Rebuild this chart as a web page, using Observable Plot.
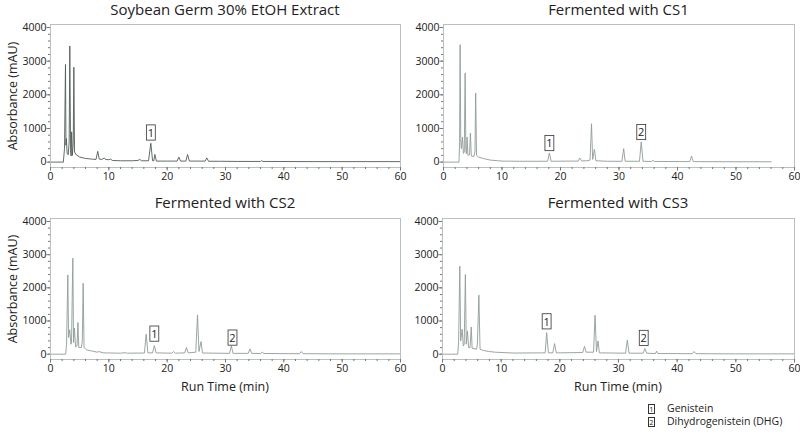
<!DOCTYPE html>
<html>
<head>
<meta charset="utf-8">
<script src="https://cdn.jsdelivr.net/npm/d3@7"></script>
<script src="https://cdn.jsdelivr.net/npm/@observablehq/plot@0.6"></script>
<style>
  html, body { margin: 0; padding: 0; background: #fff; }
  #chart { position: relative; width: 800px; height: 436px; font-family: "Open Sans", sans-serif; color: #222; overflow: hidden; }
  .title { position: absolute; text-align: center; font-size: 15px; line-height: 18px; white-space: nowrap; }
  .xlab { position: absolute; text-align: center; font-size: 12.5px; line-height: 18px; white-space: nowrap; }
  .panel { position: absolute; }
  .legend { position: absolute; left: 648px; top: 402px; font-size: 10.5px; line-height: 13px; }
  .legend div { display: flex; align-items: center; height: 13px; }
  .legend .bx { display: inline-block; width: 5px; height: 8px; border: 0.8px solid #333; font-size: 7.5px; line-height: 8px; text-align: center; margin-right: 12px; }
</style>
</head>
<body>
<div id="chart"></div>
<script>
// ---- data (run time in min, absorbance in mAU) ----
const xTicks = [0, 10, 20, 30, 40, 50, 60];
const yTicks = [0, 1000, 2000, 3000, 4000];
const panelTitles = ["Soybean Germ 30% EtOH Extract", "Fermented with CS1", "Fermented with CS2", "Fermented with CS3"];
const yTitle = "Absorbance (mAU)";
const xTitle = "Run Time (min)";
const legendItems = [["1", "Genistein"], ["2", "Dihydrogenistein (DHG)"]];

const soybean = [[0,0],[2.2,0],[2.4,400],[2.57,2900],[2.65,500],[2.72,700],[2.85,250],[3.05,220],[3.2,600],[3.31,3450],[3.45,300],[3.55,180],[3.62,900],[3.75,200],[3.9,600],[4.0,2820],[4.12,300],[4.4,220],[5.0,150],[6.0,110],[7.0,90],[7.8,80],[8.1,320],[8.35,90],[8.8,80],[9.2,120],[9.5,80],[10.0,70],[10.3,90],[10.6,50],[12,40],[14,40],[15.0,50],[15.3,80],[15.6,40],[16.8,40],[17.2,560],[17.5,40],[17.7,40],[17.9,230],[18.15,30],[21.7,30],[22.0,150],[22.3,30],[23.2,30],[23.5,225],[23.8,30],[26.5,30],[26.8,125],[27.1,25],[29,25],[32,20],[36.0,20],[36.2,45],[36.4,20],[45,15],[60,15]];

const cs1 = [[0,0],[2.65,0],[2.75,600],[2.84,3490],[2.95,700],[3.05,400],[3.24,745],[3.4,260],[3.55,300],[3.7,2650],[3.82,350],[3.92,250],[4.04,745],[4.18,200],[4.45,220],[4.6,865],[4.75,180],[5.2,170],[5.38,300],[5.5,2055],[5.65,200],[6,150],[7,100],[8,60],[10,30],[13,25],[17.8,25],[18.1,270],[18.4,25],[21.5,30],[23.0,30],[23.3,120],[23.6,35],[24.5,40],[25.05,60],[25.3,1140],[25.5,80],[25.8,380],[26.05,40],[28,25],[30.5,25],[30.8,400],[31.05,25],[33.5,25],[33.8,600],[34.1,25],[35.6,20],[35.8,60],[36.0,20],[42.1,15],[42.4,180],[42.7,15],[50,10],[56,10]];

const cs2 = [[0,0],[2.6,0],[2.75,300],[2.97,2390],[3.1,500],[3.3,735],[3.5,300],[3.6,350],[3.83,2895],[3.95,350],[4.1,785],[4.3,220],[4.55,250],[4.7,955],[4.85,200],[5.3,200],[5.45,400],[5.6,2140],[5.75,200],[6.2,130],[7,100],[8,60],[8.3,80],[9,40],[12,30],[12.8,45],[13.2,30],[16.1,35],[16.4,600],[16.7,40],[17.5,40],[17.8,260],[18.1,40],[20.8,30],[21.1,80],[21.4,30],[23.0,40],[23.3,200],[23.6,40],[24.9,60],[25.2,1185],[25.45,80],[25.8,380],[26.05,35],[30.7,25],[31.0,250],[31.3,25],[33.9,25],[34.2,160],[34.5,25],[36.0,20],[36.3,60],[36.6,20],[42.7,15],[43.0,80],[43.3,15],[50,10],[60,10]];

const cs3 = [[0,0],[2.6,0],[2.75,400],[2.95,2650],[3.1,400],[3.35,750],[3.55,250],[3.7,300],[3.9,2400],[4.05,300],[4.25,700],[4.45,200],[4.7,200],[4.9,820],[5.05,180],[5.8,150],[5.95,300],[6.2,1780],[6.4,150],[7,110],[8,80],[9,60],[12,35],[17.5,40],[17.75,650],[18.05,40],[18.8,40],[19.1,320],[19.4,40],[23.9,50],[24.2,230],[24.5,60],[25.75,60],[26.0,1170],[26.25,80],[26.5,400],[26.75,40],[31.2,30],[31.5,420],[31.8,30],[34.2,30],[34.5,170],[34.8,30],[36.3,20],[36.5,90],[36.7,20],[42.6,15],[42.9,80],[43.2,15],[50,10],[60,10]];

// boxed peak labels: [number, run time, label centre height]
const soybeanLabels = [["1", 17.2, 860]];
const cs1Labels = [["1", 18.1, 546], ["2", 33.8, 874]];
const cs2Labels = [["1", 17.8, 600], ["2", 31.2, 480]];
const cs3Labels = [["1", 17.75, 970], ["2", 34.3, 470]];

// ---- layout ----
const chart = document.getElementById("chart");
const panels = [
  {data: soybean, labels: soybeanLabels, left: 0, top: 0, width: 404, height: 190, ml: 50, mr: 4, color: "#505b57", ylab: true, xlab: false},
  {data: cs1, labels: cs1Labels, left: 400, top: 0, width: 400, height: 190, ml: 43, mr: 6, color: "#909c98", ylab: false, xlab: false},
  {data: cs2, labels: cs2Labels, left: 0, top: 194, width: 404, height: 188, ml: 50, mr: 4, color: "#909c98", ylab: true, xlab: true},
  {data: cs3, labels: cs3Labels, left: 400, top: 194, width: 400, height: 188, ml: 42, mr: 6, color: "#909c98", ylab: false, xlab: true}
];

panels.forEach((p, i) => {
  const mt = 24, mb = 23;
  const marks = [
    Plot.line(p.data, {x: d => d[0], y: d => d[1], stroke: p.color, strokeWidth: 0.9, clip: true}),
    Plot.frame({stroke: "#b9c0be", strokeWidth: 1}),
    Plot.axisX({ticks: 30, tickSize: 2, stroke: "#777", tickFormat: () => "", label: null}),
    Plot.axisX(xTicks, {tickSize: 3.5, tickPadding: 2, stroke: "#777", fill: "#222", label: null, fontSize: 10.5}),
    Plot.axisY({ticks: 20, tickSize: 2, stroke: "#777", tickFormat: () => "", label: null}),
    Plot.axisY(yTicks, {tickSize: 3.5, tickPadding: 0.5, stroke: "#777", fill: "#222", label: null, tickFormat: d3.format("d"), fontSize: 10.5}),
    Plot.text(p.labels, {x: d => d[1], y: d => d[2], text: d => d[0], fontSize: 11, fill: "#222"})
  ];
  if (p.ylab) {
    marks.push(Plot.text([yTitle], {text: d => d, frameAnchor: "left", textAnchor: "middle", lineAnchor: "middle", rotate: -90, dx: -38, fontSize: 12.5, fill: "#222"}));
  }
  const svg = Plot.plot({
    width: p.width, height: p.height,
    marginTop: mt, marginRight: p.mr, marginBottom: mb, marginLeft: p.ml,
    style: {fontFamily: "'Open Sans', sans-serif", fontSize: "10px", color: "#222", background: "transparent", overflow: "visible"},
    x: {domain: [0, 60]},
    y: {domain: [-160, 4090]},
    marks
  });
  const wrap = document.createElement("div");
  wrap.className = "panel";
  wrap.style.left = p.left + "px";
  wrap.style.top = p.top + "px";
  wrap.appendChild(svg);
  chart.appendChild(wrap);

  // boxes around the peak numbers
  svg.querySelectorAll("text").forEach(t => {
    const s = t.textContent;
    if (s === "1" || s === "2") {
      const b = t.getBBox();
      const r = document.createElementNS("http://www.w3.org/2000/svg", "rect");
      r.setAttribute("x", b.x - 1.3);
      r.setAttribute("y", b.y + 0.2);
      r.setAttribute("width", b.width + 2.6);
      r.setAttribute("height", b.height + 0.2);
      r.setAttribute("fill", "none");
      r.setAttribute("stroke", "#333");
      r.setAttribute("stroke-width", "0.8");
      const tr = t.getAttribute("transform");
      if (tr) r.setAttribute("transform", tr);
      t.parentNode.insertBefore(r, t);
    }
  });

  const frameLeft = p.left + p.ml;
  const frameRight = p.left + p.width - p.mr;
  const title = document.createElement("div");
  title.className = "title";
  title.textContent = panelTitles[i];
  title.style.left = frameLeft + "px";
  title.style.width = (frameRight - frameLeft) + "px";
  title.style.top = (p.top === 0 ? 0 : p.top - 1) + "px";
  chart.appendChild(title);

  const frameBottom = p.top + p.height - mb;
  if (p.xlab) {
    const xl = document.createElement("div");
    xl.className = "xlab";
    xl.textContent = xTitle;
    xl.style.left = frameLeft + "px";
    xl.style.width = (frameRight - frameLeft) + "px";
    xl.style.top = (frameBottom + 19) + "px";
    chart.appendChild(xl);
  }
});

const legend = document.createElement("div");
legend.className = "legend";
legendItems.forEach(([n, name]) => {
  const row = document.createElement("div");
  const bx = document.createElement("span");
  bx.className = "bx";
  bx.textContent = n;
  row.appendChild(bx);
  row.appendChild(document.createTextNode(name));
  legend.appendChild(row);
});
chart.appendChild(legend);
</script>
</body>
</html>
